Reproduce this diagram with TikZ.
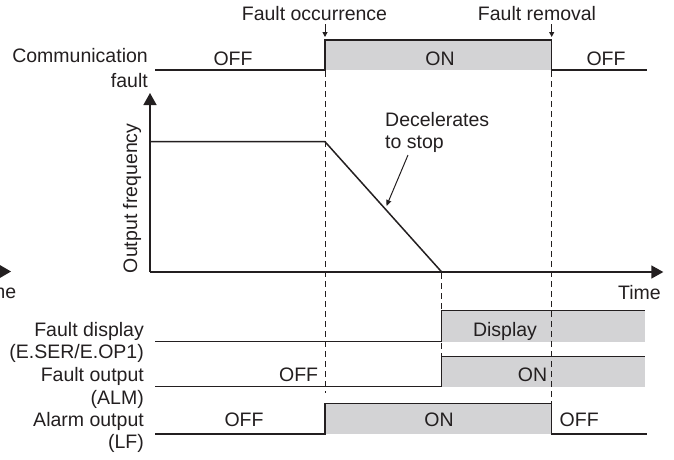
\documentclass[tikz,border=0pt]{standalone}
\usepackage{fontspec}
\setmainfont{Liberation Sans}
\usetikzlibrary{arrows.meta}
\definecolor{shade}{RGB}{211,211,213}
\definecolor{ink}{RGB}{35,31,32}
\begin{document}
\begin{tikzpicture}[x=1pt,y=-1pt,
  sig/.style={draw=ink,line width=1.5pt,line join=miter},
  onfill/.style={fill=shade,draw=none},
  dline/.style={draw=ink,line width=0.9pt,dash pattern=on 6pt off 4pt},
  axis/.style={draw=ink,line width=1.5pt,-{Triangle[length=12pt,width=13pt]}},
  eventarrow/.style={draw=ink,line width=1pt,-{Triangle[length=5pt,width=5pt]}},
  pointer/.style={draw=ink,line width=1pt,-{Triangle[length=6pt,width=5pt]}},
  txt/.style={font=\fontsize{19.5}{22}\selectfont,text=ink,inner sep=0pt},
  lefttxt/.style={txt,anchor=base east},
  ctxt/.style={txt,anchor=base}]
\useasboundingbox (0,0) rectangle (674,459);

% ---- gray ON areas
\fill[onfill] (325,40) rectangle (551.7,70);
\fill[onfill] (441.7,310.7) rectangle (645,342);
\fill[onfill] (441.7,356.7) rectangle (645,386.7);
\fill[onfill] (325,403.3) rectangle (551.7,434);

% ---- dashed guide lines
\draw[dline] (325,71) -- (325,393);
\draw[dline] (441.7,273) -- (441.7,357);
\draw[dline] (551.7,71) -- (551.7,403);

% ---- event markers
\node[ctxt] (occ) at (314.5,20) {Fault occurrence};
\node[ctxt] (rem) at (537,20) {Fault removal};
\coordinate (occa) at (325,24);
\coordinate (occb) at (325,37);
\coordinate (rema) at (551.7,24);
\coordinate (remb) at (551.7,37);
\draw[eventarrow] (occa) -- (occb);
\draw[eventarrow] (rema) -- (remb);

% ---- communication fault
\node[lefttxt] (cf1) at (148,62) {Communication};
\node[lefttxt] (cf2) at (148,87) {fault};
\draw[sig] (155,70) -- (325,70) -- (325,40) -- (551.7,40) -- (551.7,70) -- (647,70);
\node[ctxt] (cfoff1) at (233,65) {OFF};
\node[ctxt] (cfon) at (440,65) {ON};
\node[ctxt] (cfoff2) at (606,65) {OFF};

% ---- output frequency
\coordinate (origin) at (150,272);
\coordinate (ytip) at (150,93);
\coordinate (xtip) at (663.3,272);
\draw[axis] (origin) -- (ytip);
\draw[axis] (origin) -- (xtip);
\draw[sig] (150,141.7) -- (325,141.7) -- (441.7,272);
\node[txt,rotate=90,anchor=base] (of) at (137,198.3) {Output frequency};
\node[txt,anchor=base east] (time) at (661,299) {Time};
\node[txt,anchor=base west] (dec1) at (385,126.7) {Decelerates};
\node[txt,anchor=base west] (dec2) at (385,148.3) {to stop};
\coordinate (decp) at (386.5,206);
\draw[pointer] (408,155) -- (decp);

% ---- clipped fragment at left edge
\node[txt,anchor=base east] (timefrag) at (16.5,298) {Time};
\fill[ink] (11,271.5) -- (-1,264.5) -- (-1,278.5) -- cycle;

% ---- fault display
\node[lefttxt] (fd1) at (144,336.7) {Fault display};
\node[lefttxt] (fd2) at (144,358.3) {(E.SER/E.OP1)};
\draw[sig] (155,341.7) -- (441.7,341.7) -- (441.7,310.7) -- (645,310.7);
\node[ctxt] (fdon) at (505,336.7) {Display};

% ---- fault output
\node[lefttxt] (fo1) at (144,381.7) {Fault output};
\node[lefttxt] (fo2) at (144,404.5) {(ALM)};
\draw[sig] (155,386.7) -- (441.7,386.7) -- (441.7,356.7) -- (645,356.7);
\node[txt,anchor=base east] (fooff) at (318.3,381.7) {OFF};
\node[ctxt] (foon) at (532.5,381.7) {ON};

% ---- alarm output
\node[lefttxt] (ao1) at (144,426.7) {Alarm output};
\node[lefttxt] (ao2) at (144,448) {(LF)};
\draw[sig] (155,434) -- (325,434) -- (325,403.3) -- (551.7,403.3) -- (551.7,434) -- (647,434);
\node[ctxt] (aooff1) at (244,426.7) {OFF};
\node[ctxt] (aoon) at (439,426.7) {ON};
\node[txt,anchor=base west] (aooff2) at (559.5,426.7) {OFF};
\end{tikzpicture}
\end{document}
